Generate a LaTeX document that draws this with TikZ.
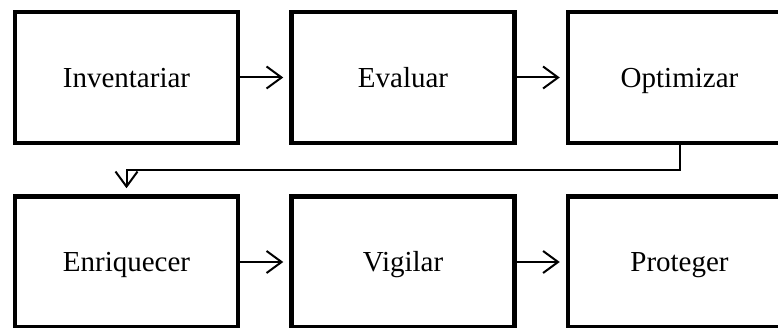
\documentclass[tikz,border=0pt]{standalone}
\usepackage{fontspec}
\setmainfont{Liberation Serif}
\usetikzlibrary{arrows.meta,positioning}

\begin{document}
\begin{tikzpicture}[x=1pt, y=1pt, >={Straight Barb[length=15pt,width=22pt]},
  stage/.style={draw, line width=4.5pt, minimum width=223pt, minimum height=131pt,
    inner sep=0pt, text height=20pt, text depth=0pt, font=\fontsize{29}{34}\selectfont},
  flow/.style={->, line width=2pt, shorten >=6pt}]

% --- FRAME ---
\useasboundingbox (0,0) rectangle (778,-328);
\clip (0,0) rectangle (778,-328);

% --- PARAMETERS ---
\def\gap{49pt} % space between boxes

% --- TOP ROW ---
\node[stage] (inv) at (126.5,-77.5) {Inventariar};
\node[stage, right=\gap of inv] (eva) {Evaluar};
\node[stage, right=\gap of eva] (opt) {Optimizar};

% --- BOTTOM ROW ---
\node[stage, below=\gap of inv] (enr) {Enriquecer};
\node[stage, right=\gap of enr] (vig) {Vigilar};
\node[stage, right=\gap of vig] (pro) {Proteger};

% --- ARROWS ---
\draw[flow] (inv) -- (eva);
\draw[flow] (eva) -- (opt);
\draw[flow] (opt.south) -- ++(0,-24.5) -| (enr.north);
\draw[flow] (enr) -- (vig);
\draw[flow] (vig) -- (pro);

\end{tikzpicture}
\end{document}
